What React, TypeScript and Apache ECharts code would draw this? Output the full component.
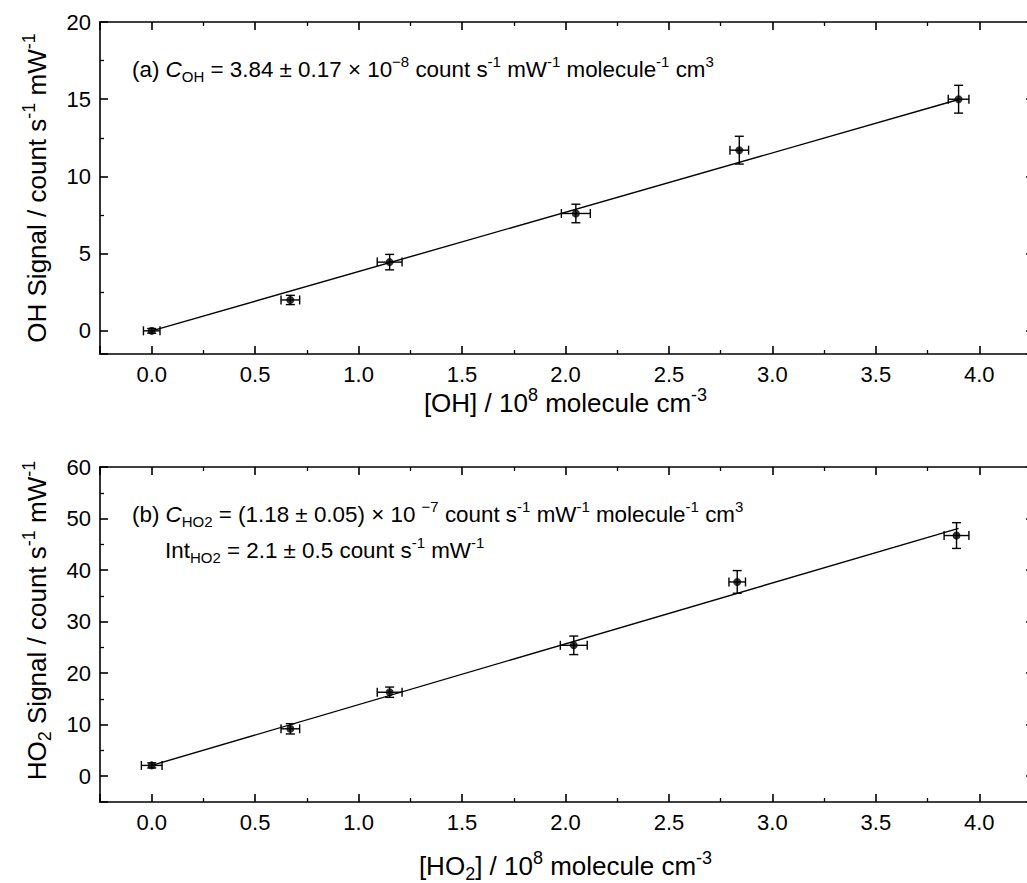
import React, { useEffect, useRef } from "react";
import * as echarts from "echarts";

// ---- data ----
const ohX = [0.0, 0.67, 1.15, 2.05, 2.84, 3.9];
const ohY = [0.0, 2.0, 4.45, 7.6, 11.7, 15.0];
const ohXErr = [0.04, 0.045, 0.06, 0.07, 0.045, 0.05];
const ohYErr = [0.15, 0.3, 0.5, 0.6, 0.9, 0.9];
const ohFitX = [0.0, 3.9];
const ohFitY = [0.0, 14.98];

const ho2X = [0.0, 0.67, 1.15, 2.04, 2.83, 3.89];
const ho2Y = [2.1, 9.2, 16.3, 25.4, 37.7, 46.7];
const ho2XErr = [0.05, 0.045, 0.06, 0.065, 0.04, 0.06];
const ho2YErr = [0.5, 1.0, 1.0, 1.8, 2.2, 2.5];
const ho2FitX = [0.0, 3.9];
const ho2FitY = [2.1, 48.1];

const xRange = [-0.25, 4.25];
const ohYRange = [-1.5, 20];
const ho2YRange = [-5, 60];
const xStep = 0.5;
const ohYStep = 5;
const ho2YStep = 10;

const FONT = '"Liberation Sans", Arial, Helvetica, sans-serif';
const TICK_FS = 22;
const TITLE_FS = 26;
const ANN_FS = 22.4;

const isMult = (v: number, s: number) => Math.abs(v / s - Math.round(v / s)) < 1e-6;

const richBase = (fs: number) => ({
  it: { fontSize: fs, fontStyle: "italic", fontFamily: FONT, color: "#000", lineHeight: fs + 8 },
  sub: { fontSize: Math.round(fs * 0.68), fontFamily: FONT, color: "#000", lineHeight: Math.round(fs * 0.68), verticalAlign: "bottom" },
  sup: { fontSize: Math.round(fs * 0.68), fontFamily: FONT, color: "#000", lineHeight: Math.round(fs * 0.68), verticalAlign: "top" },
});

const lineStyle = { color: "#000", width: 1.6 };

function xAxesFor(gridIndex: number, name: string, nameGap: number) {
  const common: any = {
    type: "value",
    gridIndex,
    min: xRange[0],
    max: xRange[1],
    splitNumber: 9,
    axisLine: { show: true, onZero: false, lineStyle },
    splitLine: { show: false },
    minorSplitLine: { show: false },
  };
  return [
    {
      ...common,
      position: "bottom",
      axisTick: { show: true, inside: true, length: 8, lineStyle },
      minorTick: { show: true, splitNumber: 2, length: 4, lineStyle: { color: "#000", width: 1.3 } },
      axisLabel: {
        show: true,
        margin: 9,
        fontSize: TICK_FS,
        fontFamily: FONT,
        color: "#000",
        formatter: (v: number) => (isMult(v, xStep) ? v.toFixed(1) : ""),
      },
      name,
      nameLocation: "middle",
      nameGap,
      nameTextStyle: { fontSize: TITLE_FS, fontFamily: FONT, color: "#000", lineHeight: TITLE_FS + 8, rich: richBase(TITLE_FS) },
    },
    {
      ...common,
      position: "top",
      axisTick: { show: true, inside: true, length: 8, lineStyle },
      minorTick: { show: true, splitNumber: 2, length: 4, lineStyle: { color: "#000", width: 1.3 } },
      axisLabel: { show: false },
    },
  ];
}

function yAxesFor(
  gridIndex: number,
  range: number[],
  step: number,
  splitNumber: number,
  name: string,
  nameGap: number,
  namePad: number[]
) {
  const common: any = {
    type: "value",
    gridIndex,
    min: range[0],
    max: range[1],
    splitNumber,
    axisLine: { show: true, onZero: false, lineStyle },
    splitLine: { show: false },
    minorSplitLine: { show: false },
  };
  return [
    {
      ...common,
      position: "left",
      axisTick: { show: true, inside: true, length: 8, lineStyle },
      minorTick: { show: true, splitNumber: 2, length: 4, lineStyle: { color: "#000", width: 1.3 } },
      axisLabel: {
        show: true,
        margin: 9,
        fontSize: TICK_FS,
        fontFamily: FONT,
        color: "#000",
        formatter: (v: number) => (isMult(v, step) ? String(Math.round(v)) : ""),
      },
      name,
      nameLocation: "middle",
      nameRotate: 90,
      nameGap,
      nameTextStyle: {
        fontSize: TITLE_FS,
        fontFamily: FONT,
        color: "#000",
        lineHeight: TITLE_FS + 8,
        padding: namePad,
        rich: richBase(TITLE_FS),
      },
    },
    {
      ...common,
      position: "right",
      axisTick: { show: true, inside: true, length: 5, lineStyle },
      minorTick: { show: true, splitNumber: 2, length: 3, lineStyle: { color: "#000", width: 1.3 } },
      axisLabel: { show: false },
    },
  ];
}

function errRender(params: any, api: any) {
  const x = api.value(0);
  const y = api.value(1);
  const xe = api.value(2);
  const ye = api.value(3);
  const c = api.coord([x, y]);
  const t = api.coord([x, y + ye]);
  const b = api.coord([x, y - ye]);
  const l = api.coord([x - xe, y]);
  const r = api.coord([x + xe, y]);
  const cap = 4.5;
  const st = { stroke: "#000", lineWidth: 1.4, fill: "none" };
  const ln = (x1: number, y1: number, x2: number, y2: number) => ({ type: "line", shape: { x1, y1, x2, y2 }, style: st });
  return {
    type: "group",
    children: [
      ln(c[0], t[1], c[0], b[1]),
      ln(c[0] - cap, t[1], c[0] + cap, t[1]),
      ln(c[0] - cap, b[1], c[0] + cap, b[1]),
      ln(l[0], c[1], r[0], c[1]),
      ln(l[0], c[1] - cap, l[0], c[1] + cap),
      ln(r[0], c[1] - cap, r[0], c[1] + cap),
    ],
  };
}

function seriesFor(idx: number, xs: number[], ys: number[], xe: number[], ye: number[], fx: number[], fy: number[]) {
  return [
    {
      type: "line",
      xAxisIndex: idx,
      yAxisIndex: idx,
      data: fx.map((x, i) => [x, fy[i]]),
      showSymbol: false,
      symbol: "none",
      lineStyle: { color: "#000", width: 1.4 },
      z: 2,
    },
    {
      type: "custom",
      xAxisIndex: idx,
      yAxisIndex: idx,
      renderItem: errRender,
      encode: { x: 0, y: 1 },
      data: xs.map((x, i) => [x, ys[i], xe[i], ye[i]]),
      z: 3,
    },
    {
      type: "scatter",
      xAxisIndex: idx,
      yAxisIndex: idx,
      symbol: "circle",
      symbolSize: 8,
      itemStyle: { color: "#000" },
      data: xs.map((x, i) => [x, ys[i]]),
      z: 4,
    },
  ];
}

const annStyle = (text: string) => ({
  text,
  fontSize: ANN_FS,
  fontFamily: FONT,
  fill: "#000",
  lineHeight: ANN_FS + 8,
  textVerticalAlign: "middle",
  rich: richBase(ANN_FS),
});

export default function App() {
  const ref = useRef<HTMLDivElement>(null);
  useEffect(() => {
    if (!ref.current) return;
    const chart = echarts.init(ref.current, null, { renderer: "svg" });
    const option: any = {
      animation: false,
      backgroundColor: "#fff",
      grid: [
        { left: 100, top: 22, width: 931, height: 332, outerBoundsMode: "none", containLabel: false },
        { left: 100, top: 467, width: 931, height: 335, outerBoundsMode: "none", containLabel: false },
      ],
      xAxis: [
        ...xAxesFor(0, "[OH] / 10{sup|8} molecule cm{sup|-3}", 29),
        ...xAxesFor(1, "[HO{sub|2}] / 10{sup|8} molecule cm{sup|-3}", 47),
      ],
      yAxis: [
        ...yAxesFor(0, ohYRange, ohYStep, 4, "OH Signal / count s{sup|-1} mW{sup|-1}", 46, [0, 0, 0, 0]),
        ...yAxesFor(1, ho2YRange, ho2YStep, 6, "HO{sub|2} Signal / count s{sup|-1} mW{sup|-1}", 46, [0, 0, 0, 28]),
      ],
      series: [
        ...seriesFor(0, ohX, ohY, ohXErr, ohYErr, ohFitX, ohFitY),
        ...seriesFor(2, ho2X, ho2Y, ho2XErr, ho2YErr, ho2FitX, ho2FitY),
      ],
      graphic: [
        {
          type: "text",
          left: 132,
          top: 54,
          style: annStyle("(a) {it|C}{sub|OH} = 3.84 ± 0.17 × 10{sup|−8} count s{sup|-1} mW{sup|-1} molecule{sup|-1} cm{sup|3}"),
        },
        {
          type: "text",
          left: 132,
          top: 499,
          style: annStyle("(b) {it|C}{sub|HO2} = (1.18 ± 0.05) × 10 {sup|−7} count s{sup|-1} mW{sup|-1} molecule{sup|-1} cm{sup|3}"),
        },
        {
          type: "text",
          left: 165,
          top: 535,
          style: annStyle("Int{sub|HO2} = 2.1 ± 0.5 count s{sup|-1} mW{sup|-1}"),
        },
      ],
    };
    chart.setOption(option);
    return () => chart.dispose();
  }, []);
  return <div ref={ref} style={{ position: "absolute", left: 0, top: 0, width: 1027, height: 883 }} />;
}
